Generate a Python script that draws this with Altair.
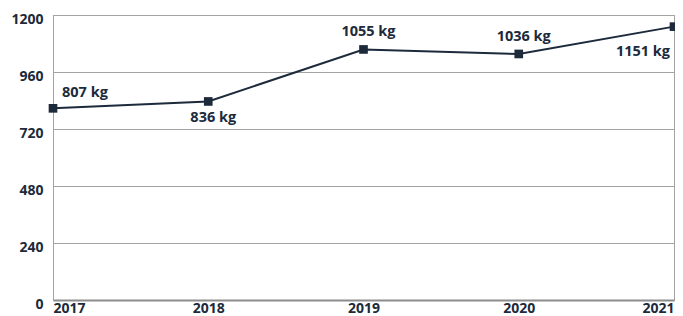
import altair as alt
import pandas as pd

years = [2017, 2018, 2019, 2020, 2021]
values = [807, 836, 1055, 1036, 1151]
labels = ["807 kg", "836 kg", "1055 kg", "1036 kg", "1151 kg"]
y_ticks = [0, 240, 480, 720, 960, 1200]

df = pd.DataFrame({"year": years, "value": values, "label": labels})

NAVY = "#1c2a3c"
GRID = "#a3a3a3"
FONT = "Open Sans"
FS = 14

x = alt.X("year:Q", scale=alt.Scale(domain=[2017, 2021], nice=False, zero=False),
          axis=alt.Axis(values=years, format="d", title=None, grid=False, ticks=False,
                        labelFlush=True, labelPadding=1, domainColor="#8c8c8c",
                        domainWidth=2, labelFont=FONT, labelFontSize=FS,
                        labelFontWeight="bold", labelColor=NAVY))
y = alt.Y("value:Q", scale=alt.Scale(domain=[0, 1200], nice=False),
          axis=alt.Axis(values=y_ticks, format="d", title=None, ticks=False, gridColor=GRID,
                        domainColor=GRID, labelPadding=10, labelOffset=4,
                        labelFont=FONT, labelFontSize=FS, labelFontWeight="bold",
                        labelColor=NAVY))

base = alt.Chart(df).encode(x=x, y=y)

line = base.mark_line(color=NAVY, strokeWidth=2)
pts = base.mark_point(shape="square", filled=True, size=75, color=NAVY, opacity=1)

tstyle = dict(font=FONT, fontSize=14.5, fontWeight="bold", color=NAVY)
t_first = base.mark_text(align="left", dx=9, dy=-15, **tstyle).encode(text="label:N").transform_filter(alt.datum.year == 2017)
t_above = base.mark_text(align="center", dy=-17, dx=5, **tstyle).encode(text="label:N").transform_filter((alt.datum.year == 2019) | (alt.datum.year == 2020))
t_below = base.mark_text(align="center", dy=17, dx=5, **tstyle).encode(text="label:N").transform_filter(alt.datum.year == 2018)
t_last = base.mark_text(align="right", dx=-4, dy=25, **tstyle).encode(text="label:N").transform_filter(alt.datum.year == 2021)

chart = alt.layer(line, pts, t_first, t_above, t_below, t_last).properties(
    width=621, height=285,
    autosize=alt.AutoSizeParams(type="none"),
    padding={"left": 45, "top": 7, "right": 1, "bottom": 16}
).configure_view(stroke=GRID, strokeWidth=1)

chart.save("out.html", embed_options={"renderer": "svg", "actions": False})
